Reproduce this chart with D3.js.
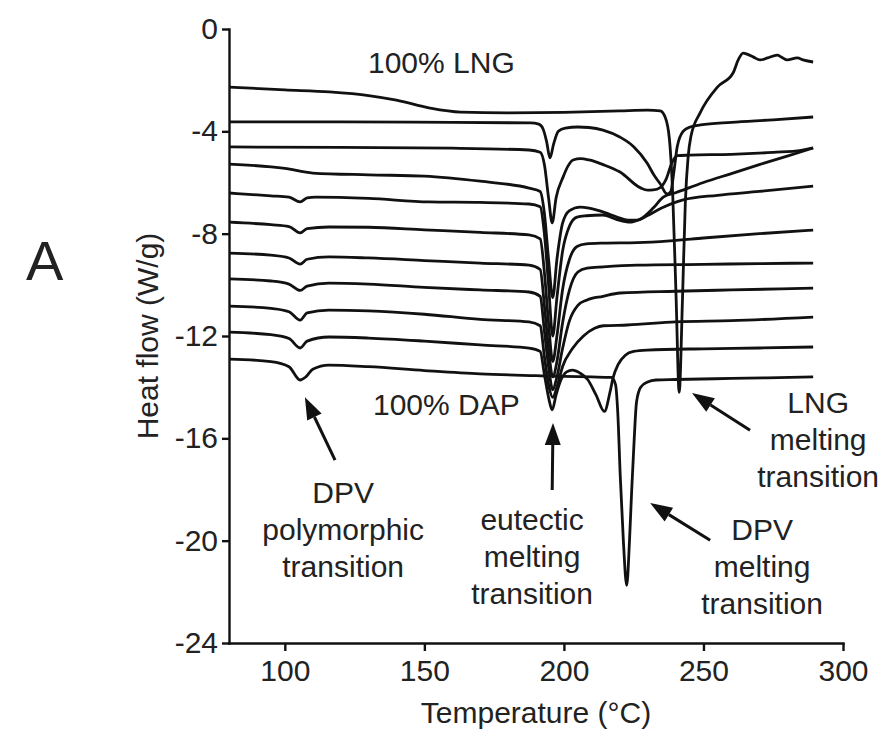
<!DOCTYPE html>
<html lang="en">
<head>
<meta charset="UTF-8">
<title>DSC thermograms</title>
<script src="https://d3js.org/d3.v7.min.js"></script>
<style>
  body { margin: 0; background: #fff; }
  svg { display: block; font-family: "Liberation Sans", Arial, sans-serif; }
  .trace { fill: none; stroke: #111; stroke-width: 2.8px; stroke-linejoin: round; }
  .axis path, .axis line { stroke: #111; stroke-width: 2.4px; }
  .axis text { font-size: 30px; fill: #222; }
  .note { font-size: 30px; fill: #222; }
</style>
</head>
<body>
<div id="chart"></div>
<script>
// temperature (°C), heat flow (W/g) for each thermogram, top to bottom
const traceLNG = [[80,-2.27],[100,-2.38],[116,-2.46],[130,-2.6],[140,-2.78],[152,-3.09],[163,-3.25],[180,-3.28],[200,-3.26],[220,-3.2],[230,-3.17],[234.5,-3.2],[236.3,-3.45],[237.8,-4.3],[239,-6.5],[240.2,-10.5],[241.3,-14.2],[242.5,-10.5],[243.5,-6.8],[244.5,-5.0],[245.5,-4.2],[248.8,-3.28],[255,-2.27],[260.6,-1.72],[262.5,-1.2],[264.2,-0.94],[266,-1.0],[267.8,-1.09],[270.3,-1.21],[273,-1.13],[276.4,-1.02],[278,-1.1],[280,-1.21],[283.6,-1.13],[286,-1.22],[289.3,-1.29]];
const trace2 = [[80,-3.63],[120,-3.63],[160,-3.65],[188,-3.67],[191,-3.72],[192.5,-3.9],[193.8,-4.4],[195,-5.04],[196.3,-4.5],[198,-4.0],[200.5,-3.87],[205,-3.83],[209,-3.85],[214,-3.95],[220,-4.22],[225,-4.6],[229.8,-5.24],[232.5,-5.75],[234.5,-6.05],[237,-6.45],[238.3,-6.35],[239.5,-5.5],[240.6,-4.6],[242.7,-4.0],[245.2,-3.83],[249,-3.75],[260,-3.65],[275,-3.55],[289.3,-3.44]];
const trace3 = [[80,-4.61],[120,-4.63],[160,-4.66],[187.5,-4.73],[191.5,-4.82],[193,-5.3],[194.5,-6.6],[195.8,-7.58],[197.2,-6.6],[199.7,-5.79],[201.5,-5.35],[203.3,-5.12],[206,-5.07],[209,-5.12],[214,-5.3],[220.1,-5.59],[227.3,-6.2],[230,-6.3],[232,-6.29],[234.5,-6.2],[236.5,-5.9],[238.8,-5.2],[240.6,-4.95],[245,-4.93],[260,-4.9],[275,-4.82],[285,-4.74],[289.3,-4.65]];
const trace4 = [[80,-5.28],[100,-5.45],[110,-5.63],[130,-5.7],[150,-5.75],[170,-5.95],[187.5,-6.22],[191.5,-6.35],[193,-7.2],[194.5,-9],[196,-10.5],[197.5,-9],[199.5,-7.6],[202,-7.1],[205.8,-6.96],[209,-7.0],[211.9,-7.08],[215,-7.19],[219,-7.35],[223,-7.47],[226.2,-7.47],[229.1,-7.3],[232,-7.0],[235.6,-6.57],[240,-6.4],[250,-6.0],[260,-5.65],[270,-5.3],[280,-4.97],[289.3,-4.65]];
const trace5 = [[80,-6.41],[95,-6.52],[101.5,-6.57],[105.5,-6.76],[108,-6.6],[111,-6.57],[130,-6.62],[151.7,-6.76],[170,-6.78],[187.5,-6.84],[191.5,-6.95],[193,-8],[194.5,-10],[196,-12],[197.5,-10.5],[199.5,-8.7],[202,-7.7],[204.7,-7.35],[208,-7.3],[214,-7.27],[219,-7.45],[223.7,-7.55],[227,-7.45],[229.8,-7.3],[235,-7.0],[242.7,-6.68],[255,-6.5],[270,-6.35],[289.3,-6.14]];
const trace6 = [[80,-7.55],[95,-7.65],[101.5,-7.72],[105.5,-7.97],[108,-7.8],[115.8,-7.74],[130,-7.75],[150,-7.85],[170,-7.95],[187.5,-8.05],[191.5,-8.2],[193,-9.5],[194.5,-11.5],[196,-13],[197.5,-12],[199.5,-10.2],[202,-9.0],[204.7,-8.5],[208,-8.4],[214.1,-8.37],[226.2,-8.35],[238,-8.28],[250,-8.17],[270,-8.0],[289.3,-7.86]];
const trace7 = [[80,-8.76],[95,-8.84],[101.5,-8.95],[105.5,-9.19],[108,-9.0],[115.8,-8.91],[130,-8.95],[150,-9.05],[170,-9.15],[187.5,-9.23],[191.5,-9.4],[193,-10.8],[194.5,-12.5],[196,-13.6],[197.5,-13],[199.5,-11.5],[202,-10.2],[205,-9.5],[208.3,-9.35],[214.1,-9.3],[226.2,-9.23],[250,-9.2],[270,-9.17],[289.3,-9.15]];
const trace8 = [[80,-9.77],[95,-9.85],[101.5,-9.97],[105.5,-10.22],[108,-10.05],[115.8,-9.93],[130,-9.97],[150,-10.1],[170,-10.2],[187.5,-10.28],[191.5,-10.45],[193,-11.8],[194.5,-13.2],[196,-14.1],[197.5,-13.6],[199.5,-12.5],[202,-11.4],[205,-10.8],[208.3,-10.59],[214,-10.45],[220.1,-10.32],[240,-10.25],[260,-10.2],[289.3,-10.13]];
const trace9 = [[80,-10.83],[95,-10.92],[101.5,-11.05],[105.5,-11.38],[108,-11.1],[115.8,-10.99],[130,-11.02],[150,-11.15],[170,-11.35],[187.5,-11.45],[191.5,-11.6],[193,-12.8],[194.5,-13.9],[196,-14.4],[197.5,-14],[199.5,-13.2],[203,-12.5],[207,-12.0],[211,-11.7],[214.1,-11.6],[222.7,-11.57],[240,-11.45],[260,-11.4],[289.3,-11.26]];
const trace10 = [[80,-11.85],[95,-11.95],[101.5,-12.1],[105.5,-12.47],[108,-12.2],[115.8,-12.04],[130,-12.08],[150,-12.2],[170,-12.35],[187.5,-12.47],[191.5,-12.6],[193,-13.5],[194.5,-14.4],[195.8,-14.89],[197.2,-14.3],[199,-13.7],[201,-13.4],[203,-13.33],[205.8,-13.45],[208.5,-13.7],[211.5,-14.3],[214.5,-14.95],[216.5,-14.2],[217.6,-13.64],[219.5,-13.1],[222,-12.75],[225,-12.6],[229.8,-12.55],[250,-12.5],[270,-12.47],[289.3,-12.43]];
const traceDAP = [[80,-12.9],[95,-13.0],[101.5,-13.2],[105.5,-13.72],[107.5,-13.6],[110,-13.3],[115.8,-13.14],[130,-13.2],[150,-13.35],[170,-13.48],[190,-13.55],[200,-13.58],[210,-13.6],[217,-13.62],[218.5,-13.9],[219.3,-15],[220.2,-17.5],[221.3,-20],[222.5,-21.75],[223.5,-20],[224.3,-18],[225.2,-16],[226,-14.6],[227.5,-14.0],[230,-13.8],[233,-13.72],[240,-13.7],[260,-13.66],[289.3,-13.6]];

const traces = [traceLNG, trace2, trace3, trace4, trace5, trace6, trace7, trace8, trace9, trace10, traceDAP];

const xTicks = [100, 150, 200, 250, 300];
const yTicks = [0, -4, -8, -12, -16, -20, -24];

// annotation text: anchor in data units (x, first baseline y)
const notes = [
  { t: 129.8, v: -1.72, anchor: "start", lines: ["100% LNG"] },
  { t: 131.6, v: -15.09, anchor: "start", lines: ["100% DAP"] },
  { t: 120.9, v: -18.53, anchor: "middle", lines: ["DPV", "polymorphic", "transition"] },
  { t: 188.6, v: -19.58, anchor: "middle", lines: ["eutectic", "melting", "transition"] },
  { t: 271.0, v: -19.98, anchor: "middle", lines: ["DPV", "melting", "transition"] },
  { t: 291.1, v: -15.01, anchor: "middle", lines: ["LNG", "melting", "transition"] }
];

// arrows: [tail, tip] in data units
const arrows = [
  [[118.0, -16.85], [107.2, -14.39]],
  [[195.8, -18.02], [196.1, -15.4]],
  [[252.4, -19.98], [230.9, -18.53]],
  [[266.7, -15.68], [245.9, -14.23]]
];

const width = 888, height = 734;
const svg = d3.select("#chart").append("svg")
    .attr("width", width)
    .attr("height", height);

svg.append("rect").attr("width", width).attr("height", height).attr("fill", "#fff");

const x = d3.scaleLinear().domain([80, 300]).range([229, 843]);
const y = d3.scaleLinear().domain([-24, 0]).range([643, 29]);

const line = d3.line()
    .x(d => x(d[0]))
    .y(d => y(d[1]))
    .curve(d3.curveMonotoneX);

svg.append("g")
    .selectAll("path")
    .data(traces)
    .enter().append("path")
    .attr("class", "trace")
    .attr("d", line);

// axes
svg.append("g")
    .attr("class", "axis")
    .attr("transform", "translate(0,643)")
    .call(d3.axisBottom(x).tickValues(xTicks).tickSize(8).tickPadding(8).tickSizeOuter(0))
    .call(g => g.selectAll("text").attr("dy", "0.72em"));

svg.append("g")
    .attr("class", "axis")
    .attr("transform", "translate(229,0)")
    .call(d3.axisLeft(y).tickValues(yTicks).tickFormat(d => String(d)).tickSize(7).tickPadding(4).tickSizeOuter(0));

svg.selectAll(".axis .domain").attr("stroke-linecap", "square");

// axis titles
svg.append("text")
    .attr("x", x(190))
    .attr("y", 723)
    .attr("text-anchor", "middle")
    .attr("font-size", 30)
    .attr("fill", "#222")
    .text("Temperature (°C)");

svg.append("text")
    .attr("transform", "translate(158," + y(-12) + ") rotate(-90)")
    .attr("text-anchor", "middle")
    .attr("font-size", 30)
    .attr("fill", "#222")
    .text("Heat flow (W/g)");

svg.append("text")
    .attr("x", 26)
    .attr("y", 280)
    .attr("font-size", 56)
    .attr("fill", "#222")
    .text("A");

// annotations
notes.forEach(n => {
  const t = svg.append("text")
      .attr("class", "note")
      .attr("text-anchor", n.anchor)
      .attr("x", x(n.t))
      .attr("y", y(n.v));
  n.lines.forEach((s, i) => {
    t.append("tspan")
        .attr("x", x(n.t))
        .attr("dy", i === 0 ? 0 : 37)
        .text(s);
  });
});

arrows.forEach(a => {
  const x0 = x(a[0][0]), y0 = y(a[0][1]), x1 = x(a[1][0]), y1 = y(a[1][1]);
  const ang = Math.atan2(y1 - y0, x1 - x0);
  const len = 22, half = 8;
  const bx = x1 - len * Math.cos(ang), by = y1 - len * Math.sin(ang);
  svg.append("line")
      .attr("x1", x0).attr("y1", y0)
      .attr("x2", bx).attr("y2", by)
      .attr("stroke", "#111").attr("stroke-width", 3);
  svg.append("path")
      .attr("d", "M" + x1 + "," + y1 +
        "L" + (bx + half * Math.sin(ang)) + "," + (by - half * Math.cos(ang)) +
        "L" + (bx - half * Math.sin(ang)) + "," + (by + half * Math.cos(ang)) + "Z")
      .attr("fill", "#111");
});
</script>
</body>
</html>
